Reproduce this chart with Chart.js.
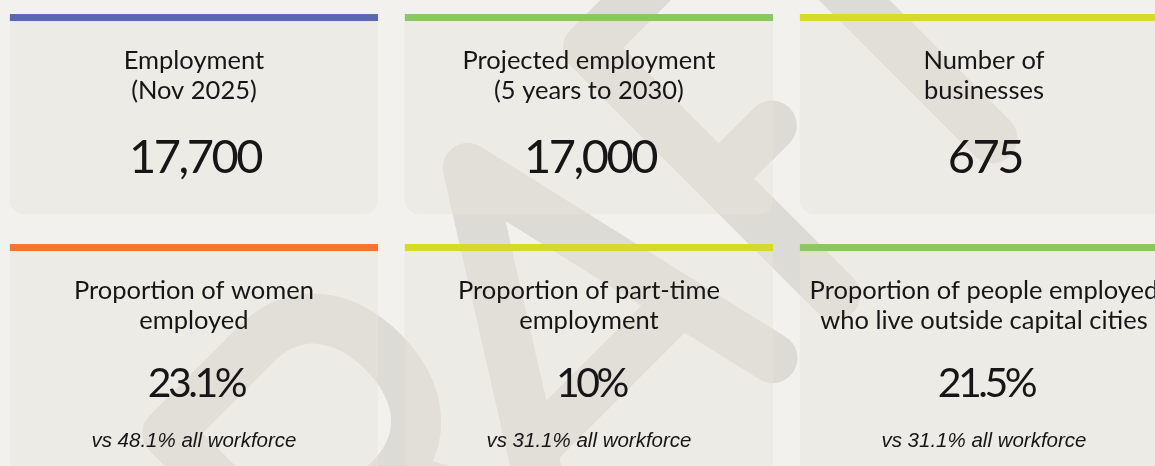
<!DOCTYPE html>
<html>
<head>
<meta charset="utf-8">
<script src="https://cdn.jsdelivr.net/npm/chart.js@4.4.0/dist/chart.umd.min.js"></script>
<style>
  html, body { margin: 0; padding: 0; background: #f2f1ed; overflow: hidden; }
  canvas { display: block; }
</style>
</head>
<body>
<canvas id="cards" width="1155" height="466"></canvas>
<script>
// card contents, read left to right, top row first
var titles = [
  ["Employment", "(Nov 2025)"],
  ["Projected employment", "(5 years to 2030)"],
  ["Number of", "businesses"],
  ["Proportion of women", "employed"],
  ["Proportion of part-time", "employment"],
  ["Proportion of people employed", "who live outside capital cities"]
];
var counts = [17700, 17000, 675];          // top row
var shares = [23.1, 10, 21.5];             // bottom row, %
var allWorkforce = [48.1, 31.1, 31.1];     // bottom row comparison, %
var barColors = ["#5a68b1", "#89c765", "#d8d929", "#f27532", "#d5d92a", "#89c765"];

var values = counts.map(function (v) { return v.toLocaleString("en-US"); })
  .concat(shares.map(function (v) { return v + "%"; }));
var notes = ["", "", ""].concat(allWorkforce.map(function (v) { return "vs " + v + "% all workforce"; }));

var points = values.map(function (_, i) {
  return { x: i % 3, y: Math.floor(i / 3) };
});

// big "DRAFT" behind the cards, as stroked letters in a rotated frame (y up)
function drawDraft(ctx) {
  ctx.save();
  ctx.translate(146, 1020);
  ctx.rotate(-Math.PI / 4);
  ctx.scale(1, -1);
  ctx.strokeStyle = "#dcdbd6";
  ctx.lineWidth = 50;
  ctx.lineCap = "round";
  ctx.lineJoin = "round";
  ctx.beginPath();
  // D
  ctx.moveTo(150, 25); ctx.lineTo(150, 375); ctx.lineTo(260, 375);
  ctx.bezierCurveTo(340, 375, 370, 300, 370, 200);
  ctx.bezierCurveTo(370, 100, 340, 25, 260, 25);
  ctx.closePath();
  // R
  ctx.moveTo(430, 25); ctx.lineTo(430, 400); ctx.lineTo(555, 400);
  ctx.bezierCurveTo(615, 400, 640, 355, 640, 305);
  ctx.bezierCurveTo(640, 255, 615, 210, 555, 210);
  ctx.lineTo(430, 210);
  ctx.moveTo(560, 210); ctx.lineTo(660, 25);
  // A
  ctx.moveTo(610, 25); ctx.lineTo(830, 375); ctx.lineTo(911, 25);
  ctx.moveTo(676, 130); ctx.lineTo(887, 130);
  // F
  ctx.moveTo(1000, 25); ctx.lineTo(1000, 375); ctx.lineTo(1110, 375);
  ctx.moveTo(1000, 190); ctx.lineTo(1075, 190);
  // T
  ctx.moveTo(1222, 25); ctx.lineTo(1222, 375);
  ctx.moveTo(1120, 375); ctx.lineTo(1330, 375);
  ctx.stroke();
  ctx.restore();
}

var cardPlugin = {
  id: "cardPlugin",
  beforeDraw: function (chart) {
    var ctx = chart.ctx;
    var xs = chart.scales.x, ys = chart.scales.y;
    var pitchX = xs.getPixelForValue(1) - xs.getPixelForValue(0);
    var pitchY = ys.getPixelForValue(1) - ys.getPixelForValue(0);
    var cardW = pitchX * 0.932;

    ctx.save();
    ctx.fillStyle = "#f2f1ed";
    ctx.fillRect(0, 0, chart.width, chart.height);
    drawDraft(ctx);

    points.forEach(function (p, i) {
      var cx = xs.getPixelForValue(p.x);
      var top = ys.getPixelForValue(p.y);
      var left = cx - cardW / 2;
      var cardH = pitchY * (notes[i] ? 1.1 : 0.87);

      ctx.fillStyle = "rgba(230,229,220,0.45)";
      ctx.beginPath();
      ctx.roundRect(left, top, cardW, cardH, [0, 0, 14, 14]);
      ctx.fill();

      ctx.fillStyle = barColors[i];
      ctx.fillRect(left, top, cardW, 7);

      ctx.fillStyle = "#161616";
      ctx.textAlign = "center";
      ctx.textBaseline = "alphabetic";
      ctx.font = "25.5px Lato";
      titles[i].forEach(function (line, k) {
        ctx.fillText(line, cx, top + 55 + k * 30);
      });

      if (notes[i]) {
        ctx.font = "41px Lato";
        ctx.letterSpacing = "-3.5px";
        ctx.fillText(values[i], cx + 2, top + 153);
      } else {
        ctx.font = "47px Lato";
        ctx.letterSpacing = "-2.5px";
        ctx.fillText(values[i], cx + 1, top + 159);
      }
      ctx.letterSpacing = "0px";

      if (notes[i]) {
        ctx.font = "italic 20.5px 'Liberation Sans'";
        ctx.fillText(notes[i], cx, top + 203);
      }
    });
    ctx.restore();
  }
};

new Chart(document.getElementById("cards").getContext("2d"), {
  type: "scatter",
  data: {
    datasets: [{ data: points, pointRadius: 0, pointHoverRadius: 0 }]
  },
  options: {
    responsive: false,
    animation: false,
    events: [],
    layout: { padding: 0 },
    plugins: { legend: { display: false }, tooltip: { enabled: false } },
    scales: {
      x: { type: "linear", display: false, min: -0.491, max: 2.433 },
      y: { type: "linear", display: false, reverse: true, min: -0.061, max: 1.965 }
    }
  },
  plugins: [cardPlugin]
});
</script>
</body>
</html>
